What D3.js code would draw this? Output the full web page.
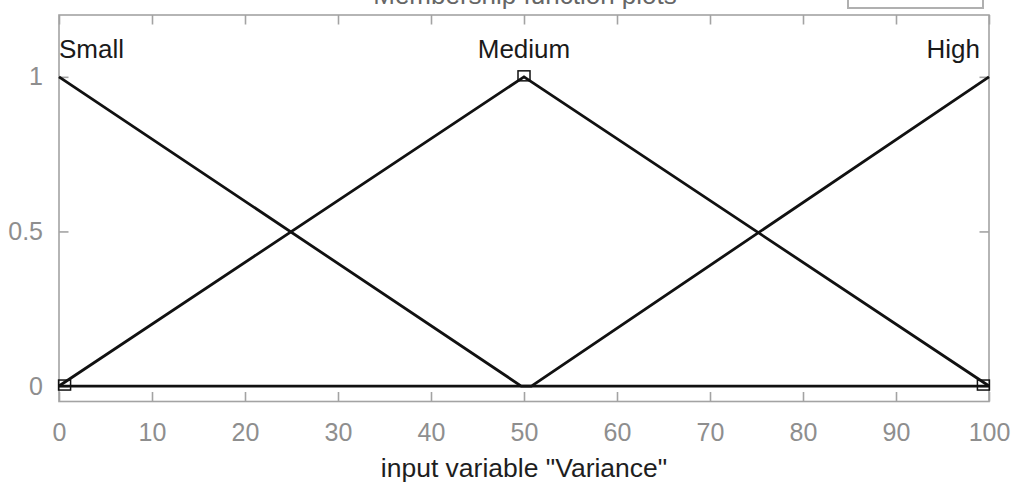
<!DOCTYPE html>
<html>
<head>
<meta charset="utf-8">
<script src="https://cdn.jsdelivr.net/npm/d3@7"></script>
<style>
  html, body { margin: 0; padding: 0; background: #fff; }
  svg { display: block; }
  text { font-family: "Liberation Sans", Arial, Helvetica, sans-serif; }
</style>
</head>
<body>
<svg id="chart" width="1013" height="485"></svg>
<script>
// Membership functions of the input variable "Variance"
const mfNames = ["Small", "Medium", "High"];
const smallX = [0, 49.7, 100];
const smallY = [1, 0, 0];
const mediumX = [0, 50, 100];
const mediumY = [0, 1, 0];
const highX = [0, 50.8, 100];
const highY = [0, 0, 1];

// Edit handles on the selected function (Medium)
const handleX = [0.6, 50, 99.4];
const handleY = [0, 1, 0];

const xTicks = [0, 10, 20, 30, 40, 50, 60, 70, 80, 90, 100];
const yTicks = [0, 0.5, 1];
const yTickLabels = ["0", "0.5", "1"];

const svg = d3.select("#chart");
const plotLeft = 59, plotRight = 989, plotTop = 15, plotBottom = 401.5;

const x = d3.scaleLinear().domain([0, 100]).range([plotLeft, plotRight]);
const y = d3.scaleLinear().domain([-0.05, 1.2]).range([plotBottom, plotTop]);

const axisGray = "#a3a3a3";
const labelGray = "#8e8e8e";

// Figure title (mostly above the visible area) and the points box
svg.append("text")
  .attr("x", 525).attr("y", 4)
  .attr("text-anchor", "middle")
  .attr("font-size", 26)
  .attr("fill", "#666")
  .text("Membership function plots");
svg.append("rect")
  .attr("x", 848).attr("y", -20).attr("width", 135).attr("height", 28)
  .attr("fill", "none").attr("stroke", "#b0b0b0").attr("stroke-width", 2);

// Axes box
svg.append("rect")
  .attr("x", plotLeft).attr("y", plotTop)
  .attr("width", plotRight - plotLeft).attr("height", plotBottom - plotTop)
  .attr("fill", "none").attr("stroke", axisGray).attr("stroke-width", 1.6);

const tickLen = 9.5;
const dropDomain = s => s.select(".domain").remove();

// Bottom axis with labels
const xAxis = d3.axisBottom(x).tickValues(xTicks).tickSizeInner(-tickLen).tickSizeOuter(0).tickPadding(22);
const gx = svg.append("g").attr("transform", `translate(0,${plotBottom})`).call(xAxis).call(dropDomain);
gx.selectAll("line").attr("stroke", axisGray).attr("stroke-width", 1.6);
gx.selectAll("text").attr("font-size", 25).attr("fill", labelGray)
  .attr("font-family", '"Liberation Sans", Arial, sans-serif');

// Top axis (ticks only)
const gxt = svg.append("g").attr("transform", `translate(0,${plotTop})`)
  .call(d3.axisTop(x).tickValues(xTicks).tickSizeInner(-tickLen).tickSizeOuter(0).tickFormat(""))
  .call(dropDomain);
gxt.selectAll("line").attr("stroke", axisGray).attr("stroke-width", 1.6);

// Left axis with labels
const yAxis = d3.axisLeft(y).tickValues(yTicks).tickSizeInner(-tickLen).tickSizeOuter(0)
  .tickPadding(16).tickFormat((d, i) => yTickLabels[i]);
const gy = svg.append("g").attr("transform", `translate(${plotLeft},0)`).call(yAxis).call(dropDomain);
gy.selectAll("line").attr("stroke", axisGray).attr("stroke-width", 1.6);
gy.selectAll("text").attr("font-size", 25).attr("fill", labelGray)
  .attr("font-family", '"Liberation Sans", Arial, sans-serif');

// Right axis (ticks only)
const gyr = svg.append("g").attr("transform", `translate(${plotRight},0)`)
  .call(d3.axisRight(y).tickValues(yTicks).tickSizeInner(-tickLen).tickSizeOuter(0).tickFormat(""))
  .call(dropDomain);
gyr.selectAll("line").attr("stroke", axisGray).attr("stroke-width", 1.6);

// Membership function curves
const line = d3.line().x(d => x(d[0])).y(d => y(d[1]));
const curves = [
  d3.zip(smallX, smallY),
  d3.zip(mediumX, mediumY),
  d3.zip(highX, highY)
];
svg.append("g").selectAll("path")
  .data(curves)
  .join("path")
  .attr("d", line)
  .attr("fill", "none")
  .attr("stroke", "#111")
  .attr("stroke-width", 2.8)
  .attr("stroke-linejoin", "miter");

// Square handles
svg.append("g").selectAll("rect")
  .data(d3.zip(handleX, handleY))
  .join("rect")
  .attr("x", d => x(d[0]) - 6)
  .attr("y", d => y(d[1]) - 6)
  .attr("width", 12).attr("height", 10)
  .attr("fill", "none").attr("stroke", "#111").attr("stroke-width", 1.5);

// Function names above each peak
const nameX = [0, 50, 100];
const nameAnchor = ["start", "middle", "end"];
const nameShift = [0, 0, -9];
svg.append("g").selectAll("text")
  .data(mfNames)
  .join("text")
  .attr("x", (d, i) => x(nameX[i]) + nameShift[i])
  .attr("y", 58)
  .attr("text-anchor", (d, i) => nameAnchor[i])
  .attr("font-size", 26)
  .attr("fill", "#1a1a1a")
  .text(d => d);

// Axis title
svg.append("text")
  .attr("x", 524).attr("y", 477)
  .attr("text-anchor", "middle")
  .attr("font-size", 26.5)
  .attr("fill", "#1e1e1e")
  .text('input variable "Variance"');
</script>
</body>
</html>
